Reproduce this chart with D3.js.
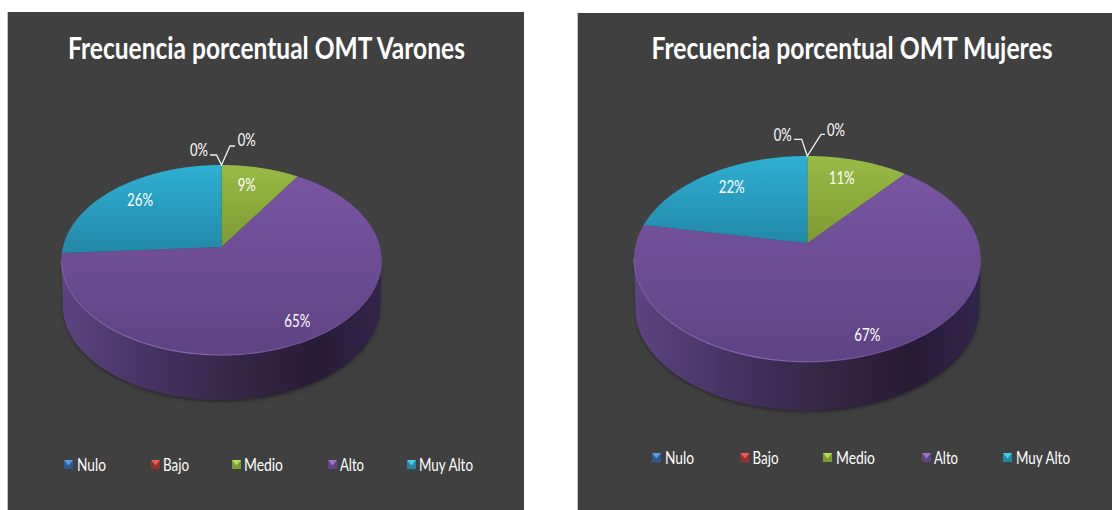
<!DOCTYPE html>
<html><head><meta charset="utf-8">
<script src="https://cdnjs.cloudflare.com/ajax/libs/d3/7.8.5/d3.min.js"></script>
<style>html,body{margin:0;padding:0;background:#fff;overflow:hidden}svg{display:block}text{font-family:Lato,"Open Sans",sans-serif;fill:#fff}</style>
</head><body><svg id="c" width="1112" height="510"></svg>
<script>
const categories = ["Nulo","Bajo","Medio","Alto","Muy Alto"];
const varonesValues = [0,0,9,65,26];
const mujeresValues = [0,0,11,67,22];
const titles = ["Frecuencia porcentual OMT Varones","Frecuencia porcentual OMT Mujeres"];
const colors = ["#3a73b8","#c23b38","#97bc45","#7a55a3","#2fb0d4"];
const darkColors = ["#2a5a98","#96302d","#7d9a32","#5f4383","#2288a8"];
const markerColors = ["#5b9be0","#e65a55","#b8dc55","#9a75c8","#45d0e8"];
const legendWidths = [29,26,39,24,54];

const panels = [
 {vals:varonesValues,title:titles[0],px:8,py:12,pw:516,ph:498,tx:266.5,tw:397,ty:59,
  cx:221.5,ay:247,top:165,bottom:355,rx:160,depth:46,shrink:.992,
  leaderL:[[210,155],[216.5,155]],leaderR:[[230,146],[235,146]],lblL:[199,152],lblR:[246.7,142],
  pos:{2:[246.7,186.5],3:[297.3,323],4:[140,202]},
  lm:[64,151,232,328,407],lt:[77,163,244,340,419],ly:467},
 {vals:mujeresValues,title:titles[1],px:578,py:13,pw:534,ph:497,tx:852,tw:401,ty:59,
  cx:807.3,ay:243.3,top:156,bottom:361.7,rx:173.3,depth:50,shrink:.992,
  leaderL:[[794,139.3],[801.7,139.3]],leaderR:[[821,134.3],[825,134.3]],lblL:[782.7,136.5],lblR:[836,131.5],
  pos:{2:[841.7,179.5],3:[867.3,337],4:[731.7,188.5]},
  lm:[652,740.5,823,922,1003],lt:[665,752.5,836,934,1016],ly:460}
];

const svg = d3.select("#c");
const defs = svg.append("defs");
const blur = defs.append("filter").attr("id","soft").attr("x","-10%").attr("y","-10%").attr("width","120%").attr("height","120%");
blur.append("feGaussianBlur").attr("stdDeviation",1.6);
const tiny = defs.append("filter").attr("id","tiny");
tiny.append("feGaussianBlur").attr("stdDeviation",.35);

// horizontal shading of the wall
const wall = defs.append("linearGradient").attr("id","wall");
[[0,"#5d4380"],[.3,"#44325f"],[.55,"#352645"],[.8,"#281b36"],[1,"#33244a"]].forEach(s=>wall.append("stop").attr("offset",s[0]).attr("stop-color",s[1]));
// rim highlight fades towards the right
const rim = defs.append("linearGradient").attr("id","rim");
[[0,"#7a5ca3"],[.35,"#8a6bb3"],[.7,"#74569a"],[1,"#6a4d90"]].forEach(s=>rim.append("stop").attr("offset",s[0]).attr("stop-color",s[1]));

panels.forEach((P,pi)=>{
  const g = svg.append("g");
  g.append("rect").attr("x",P.px-1).attr("y",P.py).attr("width",1).attr("height",P.ph).attr("fill","#c4c4c4");
  g.append("rect").attr("x",P.px).attr("y",P.py).attr("width",P.pw).attr("height",P.ph).attr("fill","#404040");
  const tt = g.append("text").attr("text-anchor","middle")
    .attr("font-size",30.5).attr("font-weight",700).text(P.title);
  const natural = tt.node().getComputedTextLength();
  tt.attr("transform",`translate(${P.tx},${P.ty}) scale(${P.tw/natural},1)`);

  // perspective projection of the unit disc onto the picture
  const up = P.ay-P.top, dn = P.bottom-P.ay;
  const p = (dn-up)/(dn+up), B = up*(1+p), A = P.rx*Math.sqrt(1-p*p);
  const proj = (t,s=1,dy=0)=>{const u=Math.sin(t),v=Math.cos(t),d=1+p*v;
    return [P.cx+s*A*u/d, P.ay-s*B*v/d+dy];};

  const pie = d3.pie().sort(null).value(d=>d).startAngle(0).endAngle(2*Math.PI);
  const arcs = pie(P.vals);
  const line = d3.line();
  const sample=(a,b,n=140)=>d3.range(n+1).map(i=>a+(b-a)*i/n);

  // front-most silhouette: find rim extremes
  const ts = sample(0,2*Math.PI,720);
  const tR = ts.reduce((m,t)=>proj(t)[0]>proj(m)[0]?t:m,0);
  const tL = ts.reduce((m,t)=>proj(t)[0]<proj(m)[0]?t:m,0);
  const front = sample(tR,tL);

  // soft shadow below the wall
  const low = front.map(t=>proj(t,P.shrink,P.depth));
  g.append("path").attr("d",line(front.map(t=>proj(t)).concat(low.slice().reverse().map(q=>[q[0],q[1]+2])))+"Z")
    .attr("fill","#2c2c2c").attr("filter","url(#soft)");
  const wallPts = front.map(t=>proj(t)).concat(low.slice().reverse());
  g.append("path").attr("d",line(wallPts)+"Z").attr("fill","url(#wall)");

  // top face
  arcs.forEach((a,i)=>{
    if(a.endAngle-a.startAngle<1e-6) return;
    const id=`top${pi}_${i}`;
    const pts=sample(a.startAngle,a.endAngle).map(t=>proj(t));
    const ys=pts.map(q=>q[1]).concat(P.ay);
    const gr=defs.append("linearGradient").attr("id",id).attr("gradientUnits","userSpaceOnUse")
      .attr("x1",0).attr("x2",0).attr("y1",d3.min(ys)).attr("y2",d3.max(ys));
    gr.append("stop").attr("offset",0).attr("stop-color",colors[i]);
    gr.append("stop").attr("offset",1).attr("stop-color",darkColors[i]);
    g.append("path").attr("d",line([[P.cx,P.ay],...pts])+"Z").attr("fill",`url(#${id})`);
  });
  // lighter bevel along the front rim
  g.append("path").attr("d",line(sample(tR,tL).map(t=>proj(t))))
    .attr("fill","none").attr("stroke","url(#rim)").attr("stroke-width",1.1).attr("filter","url(#tiny)");

  // leader lines for the empty categories
  const apex=proj(0);
  g.append("path").attr("d",line([...P.leaderL,apex,...P.leaderR])).attr("fill","none").attr("stroke","#f2f2f2").attr("stroke-width",1.3);
  const lab=(x,y,t)=>g.append("text").attr("x",x).attr("y",y).attr("text-anchor","middle").attr("dominant-baseline","middle").attr("font-size",17.5).attr("textLength",t.length>2?26:18).attr("lengthAdjust","spacingAndGlyphs").text(t);
  lab(P.lblL[0],P.lblL[1],P.vals[0]+"%");
  lab(P.lblR[0],P.lblR[1],P.vals[1]+"%");
  d3.range(2,5).forEach(i=>lab(P.pos[i][0],P.pos[i][1],P.vals[i]+"%"));

  // legend
  categories.forEach((c,i)=>{
    const s=9,x=P.lm[i],y=P.ly-7;
    g.append("rect").attr("x",x).attr("y",y).attr("width",s).attr("height",s).attr("fill",darkColors[i]);
    g.append("path").attr("d",line([[x,y],[x+s,y],[x+s/2,y+s/2+1]])+"Z").attr("fill",markerColors[i]).attr("filter","url(#tiny)");
    g.append("text").attr("x",P.lt[i]).attr("y",P.ly).attr("dominant-baseline","middle").attr("font-size",16.5)
      .attr("textLength",legendWidths[i]).attr("lengthAdjust","spacingAndGlyphs").text(c);
  });
});
</script></body></html>
